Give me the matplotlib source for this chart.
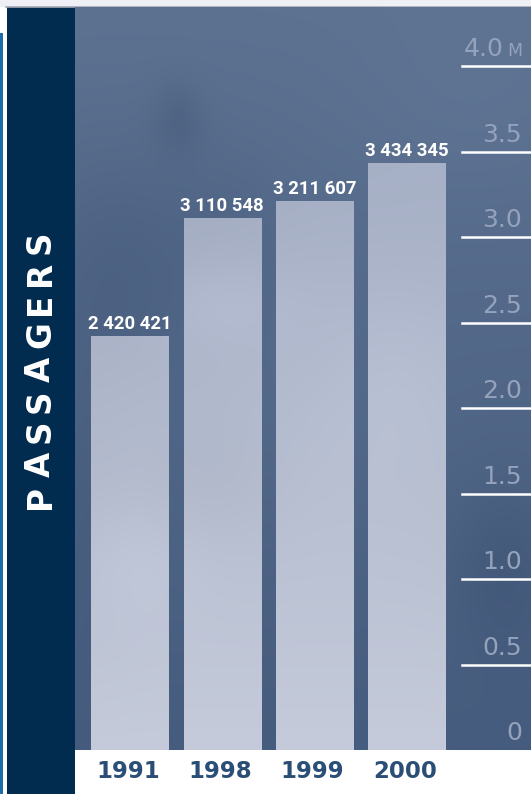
import numpy as np
import matplotlib
matplotlib.use("Agg")
import matplotlib.pyplot as plt
from matplotlib.colors import to_rgb
from matplotlib.textpath import TextPath
from matplotlib.font_manager import FontProperties

# Passenger traffic per year
years = ["1991", "1998", "1999", "2000"]
passengers = [2420421, 3110548, 3211607, 3434345]
value_labels = ["2 420 421", "3 110 548", "3 211 607", "3 434 345"]

# Scale in millions
tick_values = [0.0, 0.5e6, 1.0e6, 1.5e6, 2.0e6, 2.5e6, 3.0e6, 3.5e6, 4.0e6]
tick_labels = ["0", "0.5", "1.0", "1.5", "2.0", "2.5", "3.0", "3.5", "4.0"]
unit_label = "M"
side_title = "PASSAGERS"

W, H = 531, 794
PLOT_L, PLOT_R, PLOT_T, PLOT_B = 75, 531, 7, 750
PX_PER_MILLION = 171.0

NAVY = "#022b50"
YEAR_COLOR = "#2b4e76"
TICK_COLOR = "#94a2bc"

fig = plt.figure(figsize=(W / 100, H / 100), dpi=100, facecolor="white")

# ---- page frame (pixel coordinates) ----
bg = fig.add_axes([0, 0, 1, 1])
bg.set_xlim(0, W)
bg.set_ylim(H, 0)
bg.axis("off")
bg.add_patch(plt.Rectangle((0, 0), W, 7, color="#eef0f5", lw=0))
bg.plot([6, W], [7, 7], color="#a4a9b3", lw=1.2)
bg.add_patch(plt.Rectangle((0, 33), 3, H - 33, color="#1e6dab", lw=0))
bg.add_patch(plt.Rectangle((7, 7), PLOT_L - 7, H - 7, color=NAVY, lw=0))

# vertical side title with wide letter spacing
fs_side = 23.5
fp = FontProperties(family="DejaVu Sans", weight="bold")
ink = [TextPath((0, 0), ch, size=fs_side * 100 / 72, prop=fp).get_extents().width
       for ch in side_title]
span_top, span_bot = 233, 507
gap = ((span_bot - span_top) - sum(ink)) / (len(side_title) - 1)
pos = span_bot
for ch, w in zip(side_title, ink):
    bg.text(40.5, pos - w / 2, ch, rotation=90, ha="center", va="center",
            color="white", fontsize=fs_side, fontweight="bold",
            family="DejaVu Sans")
    pos -= w + gap

# ---- chart area ----
ax = fig.add_axes([PLOT_L / W, (H - PLOT_B) / H,
                   (PLOT_R - PLOT_L) / W, (PLOT_B - PLOT_T) / H])
ymax = (PLOT_B - PLOT_T) / PX_PER_MILLION * 1e6
x = np.arange(len(years))
step_px = 92.3
x0 = -(130 - PLOT_L) / step_px
x1 = x0 + (PLOT_R - PLOT_L) / step_px

# soft cloudy backdrop
nx, ny = PLOT_R - PLOT_L, PLOT_B - PLOT_T
X, Y = np.meshgrid(np.arange(nx) + PLOT_L, np.arange(ny) + PLOT_T)
t = (Y - PLOT_T) / ny


def blob(cx, cy, sx, sy):
    return np.exp(-(((X - cx) / sx) ** 2 + ((Y - cy) / sy) ** 2) / 2)


shade = (-0.035 * blob(178, 118, 18, 26) - 0.03 * blob(120, 260, 60, 80)
         - 0.03 * blob(505, 570, 35, 60) + 0.015 * blob(470, 110, 90, 80)
         - 0.015 * blob(230, 230, 40, 60) + 0.012 * blob(320, 420, 70, 90)
         - 0.02 * blob(90, 500, 30, 120))
top_c, bot_c = np.array(to_rgb("#5d7291")), np.array(to_rgb("#465c7e"))
back = top_c[None, None, :] * (1 - t[..., None]) + bot_c[None, None, :] * t[..., None]
back = np.clip(back + shade[..., None], 0, 1)
ax.imshow(back, extent=(x0, x1, 0, ymax), aspect="auto", origin="upper", zorder=0)

# bars with a light cloudy fill
btop, bbot = np.array(to_rgb("#a4aec4")), np.array(to_rgb("#c5cbda"))
tb = np.clip((Y - 150) / 600, 0, 1)
bar_fill = btop[None, None, :] * (1 - tb[..., None]) + bbot[None, None, :] * tb[..., None]
bar_fill = np.clip(bar_fill + 0.6 * shade[..., None]
                   + 0.025 * blob(220, 300, 50, 30)[..., None]
                   + 0.02 * blob(130, 560, 50, 40)[..., None]
                   + 0.02 * blob(400, 380, 50, 60)[..., None]
                   - 0.02 * blob(210, 480, 50, 50)[..., None], 0, 1)
bars = ax.bar(x, passengers, width=0.835, color="#b4bccf", lw=0, zorder=2)
for b in bars:
    im = ax.imshow(bar_fill, extent=(x0, x1, 0, ymax), aspect="auto",
                   origin="upper", zorder=2.1)
    im.set_clip_path(b)

ax.set_xlim(x0, x1)
ax.set_ylim(0, ymax)
ax.axis("off")

# value labels above the bars
for xi, v, lab in zip(x, passengers, value_labels):
    ax.annotate(lab, (xi, v), xytext=(0, 5), textcoords="offset points",
                ha="center", va="baseline", color="white", fontsize=13.3,
                fontweight="bold", family="Roboto")

# scale: short white rules with labels on the right
rule_start = (462 - PLOT_L) / (PLOT_R - PLOT_L)
label_right = (522 - PLOT_L) / (PLOT_R - PLOT_L)
for v, lab in zip(tick_values, tick_labels):
    if v > 0:
        ax.axhline(v, xmin=rule_start, xmax=1, color="white", lw=1.8, zorder=3)
    if v == tick_values[-1]:
        ax.annotate(unit_label, (label_right, v), xycoords=("axes fraction", "data"),
                    xytext=(0, 7), textcoords="offset points", ha="right",
                    va="baseline", color=TICK_COLOR, fontsize=12.5,
                    family="DejaVu Sans")
        xr = (504 - PLOT_L) / (PLOT_R - PLOT_L)
    else:
        xr = label_right
    ax.annotate(lab, (xr, v), xycoords=("axes fraction", "data"),
                xytext=(0, 7), textcoords="offset points", ha="right",
                va="baseline", color=TICK_COLOR, fontsize=18,
                family="DejaVu Sans")

# year labels under the chart
for xi, yr in zip(x, years):
    ax.annotate(yr, (xi, 0), xytext=(-1.5, -20), textcoords="offset points",
                ha="center", va="baseline", color=YEAR_COLOR, fontsize=16.5,
                fontweight="bold", family="DejaVu Sans", annotation_clip=False)

fig.savefig("out.png", dpi=100, facecolor="white")
